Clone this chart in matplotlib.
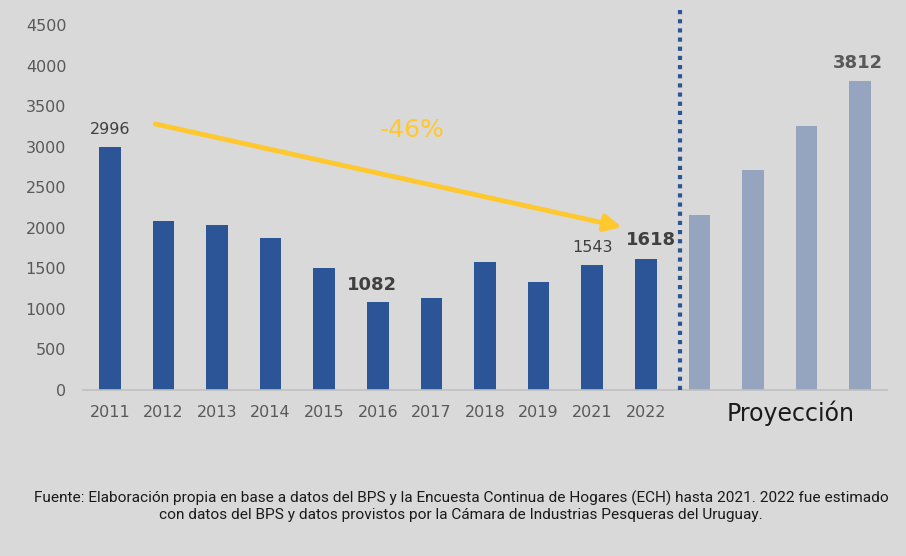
import matplotlib
matplotlib.use("Agg")
import matplotlib.pyplot as plt
import numpy as np

years = ["2011", "2012", "2013", "2014", "2015", "2016", "2017", "2018", "2019", "2021", "2022"]
hist_values = [2996, 2084, 2034, 1874, 1504, 1082, 1134, 1578, 1332, 1543, 1618]
proj_values = [2158, 2713, 3255, 3812]
proj_label = "Proyección"
yticks = [0, 500, 1000, 1500, 2000, 2500, 3000, 3500, 4000, 4500]
change_label = "-46%"
source = ("Fuente: Elaboración propia en base a datos del BPS y la Encuesta Continua de Hogares (ECH) hasta 2021. 2022 fue estimado\n"
          "con datos del BPS y datos provistos por la Cámara de Industrias Pesqueras del Uruguay.")

BG = "#D9D9D9"
DARK = "#2B5597"
LIGHT = "#95A5C0"
YELLOW = "#FFC82E"
GRAY = "#595959"

fig = plt.figure(figsize=(9.06, 5.56), dpi=100, facecolor=BG)
ax = fig.add_axes([83/906, 1-390/556, (887-83)/906, (390-7)/556])
ax.set_facecolor(BG)

n_h = len(hist_values)
xh = np.arange(n_h)
xp = np.arange(n_h, n_h + len(proj_values))
ax.bar(xh, hist_values, width=0.4, color=DARK, zorder=2)
ax.bar(xp, proj_values, width=0.4, color=LIGHT, zorder=2)

ax.set_xlim(-0.5, n_h + len(proj_values) - 0.5)
ax.set_ylim(0, 4722)
ax.set_yticks(yticks)
ax.set_yticklabels([str(v) for v in yticks], fontsize=11.5, color=GRAY)
ax.set_xticks(xh)
ax.set_xticklabels(years, fontsize=11.5, color=GRAY)
ax.tick_params(axis="both", length=0)
ax.tick_params(axis="x", pad=11)
ax.tick_params(axis="y", pad=12)
for s in ["top", "right", "left"]:
    ax.spines[s].set_visible(False)
ax.spines["bottom"].set_color("#BFBFBF")
ax.spines["bottom"].set_linewidth(1.2)

# separator
sep_x = n_h - 0.37
ax.plot([sep_x, sep_x], [0, 4722], color=DARK, linestyle=(0, (1, 1.2)), linewidth=3, zorder=3, clip_on=False)

# projection label
ax.text((xp[1] + xp[2]) / 2 + 0.2, -0.062, proj_label, transform=ax.get_xaxis_transform(),
        ha="center", va="center", fontsize=17, color="#1a1a1a")

# value labels
ax.text(xh[0], hist_values[0] + 120, str(hist_values[0]), ha="center", va="bottom", fontsize=11.5, color="#404040")
ax.text(xh[5] - 0.1, hist_values[5] + 100, str(hist_values[5]), ha="center", va="bottom", fontsize=13, fontweight="bold", color="#404040")
ax.text(xh[9], hist_values[9] + 120, str(hist_values[9]), ha="center", va="bottom", fontsize=11.5, color="#404040")
ax.text(xh[10] + 0.1, hist_values[10] + 120, str(hist_values[10]), ha="center", va="bottom", fontsize=13, fontweight="bold", color="#404040")
ax.text(xp[3] - 0.05, proj_values[3] + 110, str(proj_values[3]), ha="center", va="bottom", fontsize=13, fontweight="bold", color="#595959")

# arrow
ax.annotate("", xy=(xh[9] + 0.55, 2010), xytext=(xh[0] + 0.85, 3280),
            arrowprops=dict(arrowstyle="-|>,head_length=1.0,head_width=0.5", color=YELLOW, lw=3.5,
                            shrinkA=0, shrinkB=0), zorder=4)
ax.text(5.65, 3200, change_label, ha="center", va="center", fontsize=18, color=YELLOW,
        family=["DejaVu Sans"])

fig.text(461/906, 1 - 506/556, source, ha="center", va="center", fontsize=11.1, color="#1a1a1a",
         family=["Roboto", "DejaVu Sans"], linespacing=1.2)

fig.savefig("out.png", dpi=100, facecolor=BG)
